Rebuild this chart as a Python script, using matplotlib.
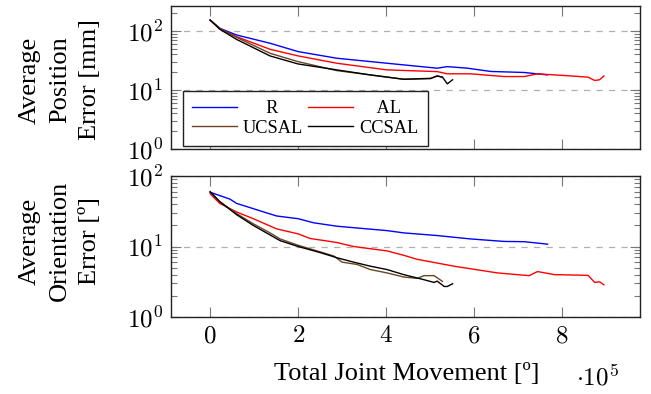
import math
import matplotlib
matplotlib.use("Agg")
import matplotlib.pyplot as plt
from matplotlib.ticker import FixedLocator, LogLocator, FuncFormatter, NullFormatter

plt.rcParams['font.family'] = ['Liberation Serif', 'DejaVu Serif']
plt.rcParams['mathtext.fontset'] = 'cm'

# ---- data (x in units of 1e5 degrees) ----
series_names = ["R", "AL", "UCSAL", "CCSAL"]
legend_labels = ["     R", "    AL", "UCSAL", "CCSAL"]
colors = ["#0000ff", "#ff0000", "#6b4423", "#000000"]

R_pos_x = [0, 0.22, 0.60, 1.36, 2.0, 2.88, 4.02, 5.16, 5.39, 5.85, 6.38, 7.14, 7.67]
R_pos_y = [153, 111, 85.5, 62, 44.7, 34.5, 28.4, 23.4, 24.9, 23.4, 20.6, 19.8, 18.0]
AL_pos_x = [0, 0.22, 0.60, 1.36, 2.0, 2.88, 4.02, 5.16, 5.39, 5.92, 6.68, 7.14, 7.44, 8.20, 8.59, 8.74, 8.85, 8.95]
AL_pos_y = [153, 108, 80, 49, 37.8, 28.4, 21.9, 20.5, 18.8, 18.8, 16.9, 16.9, 18.8, 17.3, 16.5, 14.5, 14.9, 17.3]
UC_pos_x = [0, 0.22, 0.60, 1.36, 2.0, 2.88, 3.64, 4.40, 5.01, 5.16, 5.28]
UC_pos_y = [153, 111, 78, 41.9, 30.2, 21.3, 18.0, 15.2, 15.8, 17.3, 16.5]
CC_pos_x = [0, 0.22, 0.60, 1.36, 2.0, 2.88, 3.64, 4.40, 5.01, 5.16, 5.28, 5.39, 5.51]
CC_pos_y = [153, 107, 72, 37.8, 27.6, 21.9, 18.0, 15.2, 15.6, 17.3, 16.5, 12.7, 14.9]

R_ori_x = [0, 0.45, 0.60, 1.21, 1.51, 2.0, 2.35, 2.88, 4.02, 4.40, 5.16, 5.92, 6.68, 7.14, 7.67]
R_ori_y = [58.8, 47, 40.9, 31, 27.1, 24.8, 21.7, 19.4, 16.8, 15.6, 14.3, 12.8, 11.8, 11.7, 10.8]
AL_ori_x = [0, 0.22, 0.60, 0.98, 1.51, 2.0, 2.27, 2.88, 3.26, 4.02, 4.40, 4.71, 5.54, 6.53, 7.25, 7.44, 7.83, 8.59, 8.74, 8.85, 8.95]
AL_ori_y = [56, 40.8, 30.9, 24.8, 17.8, 15.1, 13.0, 11.4, 10.0, 8.66, 7.5, 6.57, 5.26, 4.22, 3.86, 4.41, 3.99, 3.9, 3.09, 3.16, 2.86]
UC_ori_x = [0, 0.22, 0.60, 0.98, 1.36, 1.59, 2.0, 2.50, 2.81, 3.0, 3.34, 3.64, 4.02, 4.40, 4.71, 4.86, 5.09, 5.28]
UC_ori_y = [58.8, 43.2, 29.3, 21, 15.6, 12.8, 10.4, 8.4, 7.33, 6.0, 5.56, 4.71, 4.22, 3.69, 3.53, 3.86, 3.86, 3.2]
CC_ori_x = [0, 0.22, 0.60, 0.98, 1.36, 1.59, 2.0, 2.50, 2.88, 3.26, 3.64, 4.02, 4.40, 4.86, 5.09, 5.16, 5.32, 5.39, 5.51]
CC_ori_y = [60, 43.2, 28.3, 19.9, 14.6, 12.1, 10, 8.2, 6.93, 6.0, 5.26, 4.71, 3.99, 3.38, 3.09, 3.23, 2.71, 2.71, 2.96]

x_ticks = [0, 2, 4, 6, 8]
pos_series = [(R_pos_x, R_pos_y), (AL_pos_x, AL_pos_y), (UC_pos_x, UC_pos_y), (CC_pos_x, CC_pos_y)]
ori_series = [(R_ori_x, R_ori_y), (AL_ori_x, AL_ori_y), (UC_ori_x, UC_ori_y), (CC_ori_x, CC_ori_y)]

W, H = 651, 394
fig = plt.figure(figsize=(W / 100, H / 100), dpi=100)

def fx(px):
    return px / W

def fy(py):
    return 1 - py / H

ax1 = fig.add_axes([fx(171), fy(149), fx(640) - fx(171), fy(6) - fy(149)])
ax2 = fig.add_axes([fx(171), fy(317), fx(640) - fx(171), fy(176) - fy(317)])

def style(ax, ylim, show_x):
    ax.set_yscale('log')
    ax.set_xlim(-0.89, 9.77)
    ax.set_ylim(*ylim)
    ax.xaxis.set_major_locator(FixedLocator(x_ticks))
    ax.yaxis.set_major_locator(LogLocator(base=10, numticks=10))
    ax.yaxis.set_minor_locator(LogLocator(base=10, subs=range(2, 10), numticks=20))
    ax.yaxis.set_major_formatter(FuncFormatter(lambda v, p: r'$10^{%d}$' % round(math.log10(v))))
    ax.yaxis.set_minor_formatter(NullFormatter())
    if show_x:
        ax.xaxis.set_major_formatter(FuncFormatter(lambda v, p: r'$%d$' % v))
    else:
        ax.xaxis.set_major_formatter(NullFormatter())
    ax.tick_params(which='major', direction='in', length=7, width=0.8, color='#777777',
                   top=True, right=True, labelsize=18, pad=6)
    ax.tick_params(axis='x', which='minor', bottom=False, top=False)
    ax.tick_params(axis='y', which='minor', direction='in', length=4, width=0.8,
                   color='#777777', left=True, right=True)
    ax.grid(True, axis='y', which='major', linestyle=(0, (5, 5)), color='#b0b0b0', linewidth=0.9)
    ax.set_axisbelow(True)
    for s in ax.spines.values():
        s.set_color('#222222')
        s.set_linewidth(1.0)

style(ax1, (1, 265), False)
style(ax2, (1, 100), True)

lines = []
for (xs, ys), c, lab in zip(pos_series, colors, legend_labels):
    ln, = ax1.plot(xs, ys, color=c, lw=1.0, label=lab)
    lines.append(ln)
for (xs, ys), c in zip(ori_series, colors):
    ax2.plot(xs, ys, color=c, lw=1.0)

# row-wise order: R, AL / UCSAL, CCSAL
order = [0, 2, 1, 3]
leg = ax1.legend(handles=[lines[i] for i in order], loc='lower left', bbox_to_anchor=(0.0256, 0.021),
                 borderaxespad=0, ncol=2, fontsize=13.2, handlelength=2.45,
                 handletextpad=0.33, columnspacing=0.27, labelspacing=0.15,
                 borderpad=0.5, fancybox=False, framealpha=1, edgecolor='#222222')
leg.get_frame().set_linewidth(1.0)

fig.text(fx(60), fy(80), "Average\nPosition\nError [mm]", rotation=90, ha='center', va='center',
         multialignment='center', fontsize=19, linespacing=1.5)
fig.text(fx(60), fy(241), "Average\nOrientation\nError [º]", rotation=90, ha='center', va='center',
         multialignment='center', fontsize=19, linespacing=1.5)
fig.text(fx(407), fy(374), "Total Joint Movement [º]", ha='center', va='center', fontsize=19)
fig.text(fx(597), fy(377), r'$\cdot 10^{5}$', ha='center', va='center', fontsize=18)

fig.savefig("out.png", dpi=100)
